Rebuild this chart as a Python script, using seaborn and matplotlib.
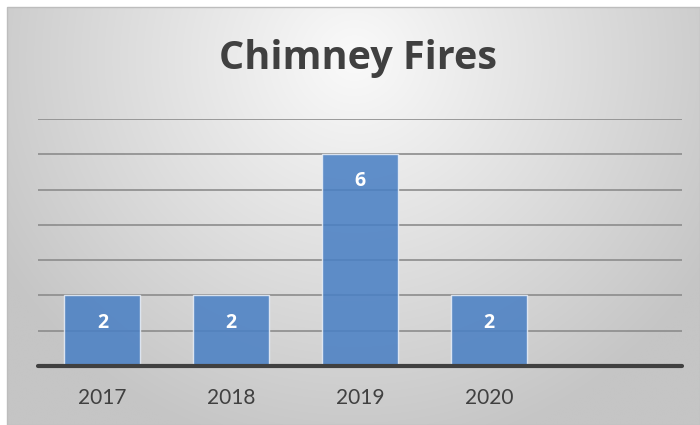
import numpy as np
import pandas as pd
import matplotlib
matplotlib.use("Agg")
import matplotlib.pyplot as plt
import seaborn as sns

categories = ["2017", "2018", "2019", "2020"]
values = [2, 2, 6, 2]
title = "Chimney Fires"

W, H = 700, 425
sns.set_theme(style="white")
plt.rcParams['font.family'] = ['Lato', 'DejaVu Sans']

fig = plt.figure(figsize=(W / 100, H / 100), dpi=100)
fig.patch.set_facecolor("white")

# background panel with radial gradient
bg = fig.add_axes([7 / W, 0, 693 / W, 418 / H], zorder=-2)
ny, nx = 200, 330
yy, xx = np.mgrid[0:ny, 0:nx]
cx, cy = nx * 0.5, ny * 0.12
r = np.sqrt(((xx - cx) / (nx * 0.62)) ** 2 + ((yy - cy) / (ny * 1.0)) ** 2)
v = np.clip(250 - 55 * r, 197, 250) / 255.0
img = np.dstack([v, v, v])
bg.imshow(img, aspect="auto", extent=(0, 1, 0, 1), interpolation="bilinear")
bg.set_xlim(0, 1)
bg.set_ylim(0, 1)
bg.axis("off")
fig.add_artist(plt.Rectangle((7 / W, 0), 693 / W, 418 / H, transform=fig.transFigure,
                             fill=False, edgecolor="#bdbdbd", linewidth=1.0))

ax = fig.add_axes([38 / W, (H - 366) / H, (682 - 38) / W, (366 - 119) / H])
ax.set_facecolor("none")

df = pd.DataFrame({"year": categories, "fires": values})
sns.barplot(data=df, x="year", y="fires", ax=ax, color="#4a80c4", alpha=0.87,
            saturation=1, width=0.59, edgecolor="#e8eef7", linewidth=1.0, zorder=3)

ax.set_xlim(-0.5, len(categories) + 0.5)
ax.set_ylim(0, 7)
ax.set_yticks(range(1, 8))
ax.yaxis.grid(True, color="#8c8c8c", linewidth=1.2, zorder=1)
ax.set_axisbelow(True)
for s in ax.spines.values():
    s.set_visible(False)
ax.axhline(0, color="#404040", linewidth=3, zorder=5, clip_on=False)
ax.tick_params(axis="y", left=False, labelleft=False)
ax.tick_params(axis="x", bottom=False, labelsize=15, labelcolor="#404040", pad=10)
ax.set_xlabel("")
ax.set_ylabel("")

for patch, val in zip(ax.patches, values):
    ax.annotate(str(val), xy=(patch.get_x() + patch.get_width() / 2, patch.get_height()),
                xytext=(0, -19.5), textcoords="offset points", ha="center", va="center",
                color="white", fontsize=14, fontweight="bold", family=["Open Sans", "DejaVu Sans"],
                zorder=6)

fig.text(358 / W, 1 - 58 / H, title, ha="center", va="center", fontsize=28.5,
         fontweight="bold", color="#404040", family=["Open Sans", "DejaVu Sans"])

fig.savefig("out.png", dpi=100)
